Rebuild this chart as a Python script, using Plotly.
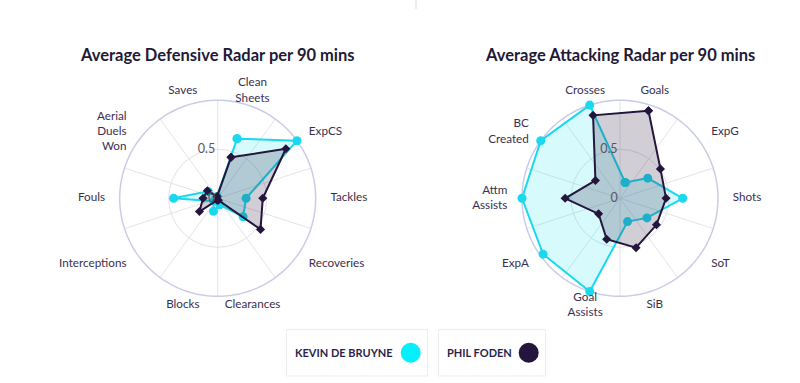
import math
import plotly.graph_objects as go

# ---------------- data ----------------
def_categories = ["Clean<br>Sheets", "ExpCS", "Tackles", "Recoveries", "Clearances",
                  "Blocks", "Interceptions", "Fouls", "Aerial<br>Duels<br>Won", "Saves"]
def_kdb = [0.64, 1.00, 0.29, 0.32, 0.07, 0.14, 0.05, 0.45, 0.12, 0.02]
def_foden = [0.44, 0.86, 0.46, 0.54, 0.02, 0.02, 0.23, 0.15, 0.13, 0.02]

att_categories = ["Goals", "ExpG", "Shots", "SoT", "SiB",
                  "Goal<br>Assists", "ExpA", "Attm<br>Assists", "BC<br>Created", "Crosses"]
att_kdb = [0.17, 0.35, 0.64, 0.34, 0.25, 1.00, 0.97, 1.00, 1.00, 1.00]
att_foden = [0.94, 0.51, 0.47, 0.46, 0.53, 0.44, 0.27, 0.56, 0.31, 0.89]

radial_ticks = [0, 0.5]
radial_ticktext = ["0", "0.5"]

player_names = ["KEVIN DE BRUYNE", "PHIL FODEN"]
titles = ["Average Defensive Radar per 90 mins", "Average Attacking Radar per 90 mins"]

CYAN = "#1ad8ee"
CYAN_LEG = "#04f0ff"
DARK = "#24153d"
TEXT = "#3a2f4f"
R_MAX = 1.0          # value scale maximum (outer circle)
R_VIEW = 1.2         # visible radial extent (room for labels)
LABEL_R = 1.15

fig = go.Figure()


def add_radar(polar_id, cats, kdb, foden):
    n = len(cats)
    step = 360 / n
    theta = [(i + 0.5) * step for i in range(n)]
    # spokes (grid lines between categories)
    st, sr = [], []
    for i in range(n):
        st += [i * step, i * step, None]
        sr += [0, R_MAX, None]
    fig.add_trace(go.Scatterpolar(theta=st, r=sr, mode="lines",
                                  line=dict(color="#e4e4e8", width=1),
                                  hoverinfo="skip", showlegend=False, subplot=polar_id))
    # outer circle at the scale maximum
    ct = list(range(0, 361, 2))
    fig.add_trace(go.Scatterpolar(theta=ct, r=[R_MAX] * len(ct), mode="lines",
                                  line=dict(color="#c9cce6", width=1.5),
                                  hoverinfo="skip", showlegend=False, subplot=polar_id))
    fig.add_trace(go.Scatterpolar(theta=theta + theta[:1], r=kdb + kdb[:1],
                                  mode="lines+markers", fill="toself",
                                  fillcolor="rgba(4,225,245,0.16)",
                                  line=dict(color=CYAN, width=2),
                                  marker=dict(color=CYAN, size=9, symbol="circle"),
                                  name=player_names[0], showlegend=False, subplot=polar_id))
    fig.add_trace(go.Scatterpolar(theta=theta + theta[:1], r=foden + foden[:1],
                                  mode="lines+markers", fill="toself",
                                  fillcolor="rgba(45,30,70,0.22)",
                                  line=dict(color=DARK, width=2),
                                  marker=dict(color=DARK, size=7, symbol="diamond"),
                                  name=player_names[1], showlegend=False, subplot=polar_id))
    # category labels, centred near top/bottom, aligned outwards on the sides
    pos = []
    for t in theta:
        s = math.sin(math.radians(t))
        if abs(s) < 0.5:
            pos.append("middle center")
        elif s > 0:
            pos.append("middle right")
        else:
            pos.append("middle left")
    fig.add_trace(go.Scatterpolar(theta=theta, r=[LABEL_R] * n, mode="text",
                                  text=cats, textposition=pos, cliponaxis=False,
                                  textfont=dict(family="Lato", size=11.7, color=TEXT),
                                  hoverinfo="skip", showlegend=False, subplot=polar_id))
    return theta


th_def = add_radar("polar", def_categories, def_kdb, def_foden)
th_att = add_radar("polar2", att_categories, att_kdb, att_foden)

RPX = 98 * R_VIEW  # pixel radius of visible polar area


def polar_layout(cx, theta):
    return dict(
        domain=dict(x=[(cx - RPX) / 800, (cx + RPX) / 800],
                    y=[(184.7 - RPX) / 383, (184.7 + RPX) / 383]),
        bgcolor="rgba(0,0,0,0)",
        radialaxis=dict(range=[0, R_VIEW], tickvals=radial_ticks, ticktext=radial_ticktext,
                        showline=False, ticks="", angle=90, tickangle=90,
                        side="counterclockwise",
                        gridcolor="#e2e2e6", gridwidth=1,
                        tickfont=dict(family="Lato", size=12.5, color="#5a5468")),
        angularaxis=dict(rotation=90, direction="clockwise",
                         tickmode="array", tickvals=theta, showticklabels=False,
                         showgrid=False, showline=False, ticks=""),
    )


fig.update_layout(
    width=800, height=383,
    margin=dict(l=0, r=0, t=0, b=0),
    paper_bgcolor="white", plot_bgcolor="white",
    polar=polar_layout(217.7, th_def),
    polar2=polar_layout(620, th_att),
)

# titles
for xc, t in zip([217.7, 620], titles):
    fig.add_annotation(x=xc / 800, y=1 - 55 / 383, xref="paper", yref="paper",
                       text="<b>" + t + "</b>", showarrow=False,
                       font=dict(family="Lato", size=16.5, color="#1e1a38"),
                       xanchor="center", yanchor="middle")

# top divider line
fig.add_shape(type="line", xref="paper", yref="paper",
              x0=416 / 800, x1=416 / 800, y0=1, y1=1 - 9 / 383,
              line=dict(color="#e6e6e6", width=1.5))

# custom legend boxes
boxes = [(286.5, 427.5, 410.7, CYAN_LEG, 293), (438.5, 545.5, 528.7, DARK, 445)]
for (x0, x1, cx, col, tx), name in zip(boxes, player_names):
    fig.add_shape(type="rect", xref="paper", yref="paper",
                  x0=x0 / 800, x1=x1 / 800, y0=1 - 329.5 / 383, y1=1 - 376 / 383,
                  line=dict(color="#ececec", width=1), fillcolor="white")
    fig.add_shape(type="circle", xref="paper", yref="paper",
                  x0=(cx - 10) / 800, x1=(cx + 10) / 800,
                  y0=1 - 362.7 / 383, y1=1 - 342.7 / 383,
                  line=dict(color=col, width=0), fillcolor=col)
    fig.add_annotation(x=tx / 800, y=1 - 352.7 / 383, xref="paper", yref="paper",
                       text="<b>" + name + "</b>", showarrow=False,
                       font=dict(family="Lato", size=11, color="#2b1f4d"),
                       xanchor="left", yanchor="middle")

fig.write_html("out.html", config={"displayModeBar": False},
               post_script="document.body.style.margin='0';document.body.style.padding='0';")
